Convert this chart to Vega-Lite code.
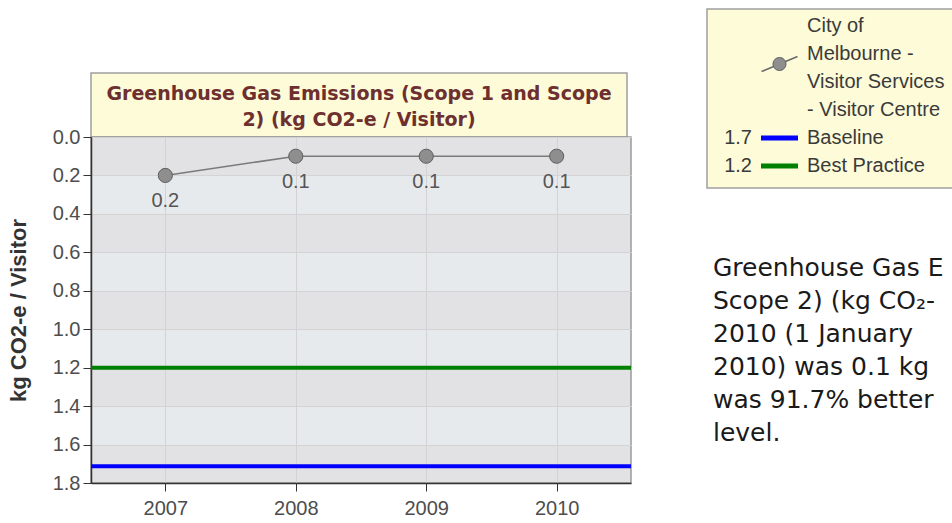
{
  "$schema": "https://vega.github.io/schema/vega-lite/v6.json",
  "padding": {"left": 6, "top": 8, "right": 0, "bottom": 0},
  "background": "white",
  "bounds": "full",
  "spacing": 72,
  "resolve": {"scale": {"x": "independent", "y": "independent", "color": "independent", "stroke": "independent"}},
  "config": {
    "font": "Liberation Sans",
    "view": {"stroke": null},
    "axis": {
      "labelFont": "Liberation Sans",
      "labelFontSize": 20,
      "labelColor": "#4d4d4d",
      "labelOverlap": false,
      "tickColor": "#333333",
      "tickSize": 8,
      "domainColor": "#333333",
      "domainWidth": 1.5,
      "gridColor": "#d3d3d3",
      "gridWidth": 1,
      "labelPadding": 3,
      "titleFont": "Liberation Sans",
      "titleFontSize": 22,
      "titleFontWeight": "bold",
      "titleColor": "#333333"
    },
    "axisY": {"labelOverlap": false}
  },
  "datasets": {
    "emissions": [
      {"year": "2007", "value": 0.2},
      {"year": "2008", "value": 0.1},
      {"year": "2009", "value": 0.1},
      {"year": "2010", "value": 0.1}
    ],
    "targets": [
      {"target": "Baseline", "value": 1.713},
      {"target": "Best Practice", "value": 1.2}
    ],
    "charttitle": [
      {"text": "Greenhouse Gas Emissions (Scope 1 and Scope\n2) (kg CO2-e / Visitor)"}
    ],
    "legend": [
      {"line": 1, "label": "City of"},
      {"line": 2, "label": "Melbourne -", "symbol": "series"},
      {"line": 3, "label": "Visitor Services"},
      {"line": 4, "label": "- Visitor Centre"},
      {"line": 5, "label": "Baseline", "value": 1.7, "symbol": "Baseline"},
      {"line": 6, "label": "Best Practice", "value": 1.2, "symbol": "Best Practice"}
    ],
    "note": [
      {"line": 1, "text": "Greenhouse Gas E"},
      {"line": 2, "text": "Scope 2) (kg CO₂-"},
      {"line": 3, "text": "2010 (1 January"},
      {"line": 4, "text": "2010) was 0.1 kg"},
      {"line": 5, "text": "was 91.7% better"},
      {"line": 6, "text": "level."}
    ]
  },
  "hconcat": [
    {
      "vconcat": [
        {
          "width": 536,
          "height": 64,
          "data": {"values": [{}]},
          "mark": {"type": "point", "opacity": 0},
          "encoding": {}
        },
        {
          "width": 536,
          "height": 64,
          "data": {"name": "charttitle"},
          "view": {"fill": "#fdfbd8", "stroke": "#a0a0a0", "strokeWidth": 1.5},
          "mark": {"type": "text", "font": "DejaVu Sans", "fontWeight": "bold", "fontSize": 19, "color": "#6e2f2f", "lineBreak": "\n", "lineHeight": 26, "baseline": "middle", "dy": -11},
          "encoding": {"text": {"field": "text"}}
        },
        {
          "width": 540,
          "height": 346,
          "view": {
            "stroke": "#9a9a9a",
            "strokeWidth": 1.5,
            "fill": {
              "gradient": "linear", "x1": 0, "y1": 0, "x2": 0, "y2": 1,
              "stops": [
                {"offset": 0, "color": "#e2e2e4"}, {"offset": 0.1111, "color": "#e2e2e4"},
                {"offset": 0.1111, "color": "#e7eaed"}, {"offset": 0.2222, "color": "#e7eaed"},
                {"offset": 0.2222, "color": "#e2e2e4"}, {"offset": 0.3333, "color": "#e2e2e4"},
                {"offset": 0.3333, "color": "#e7eaed"}, {"offset": 0.4444, "color": "#e7eaed"},
                {"offset": 0.4444, "color": "#e2e2e4"}, {"offset": 0.5556, "color": "#e2e2e4"},
                {"offset": 0.5556, "color": "#e7eaed"}, {"offset": 0.6667, "color": "#e7eaed"},
                {"offset": 0.6667, "color": "#e2e2e4"}, {"offset": 0.7778, "color": "#e2e2e4"},
                {"offset": 0.7778, "color": "#e7eaed"}, {"offset": 0.8889, "color": "#e7eaed"},
                {"offset": 0.8889, "color": "#e2e2e4"}, {"offset": 1, "color": "#e2e2e4"}
              ]
            }
          },
          "encoding": {
            "y": {
              "field": "value", "type": "quantitative",
              "scale": {"domain": [0, 1.8], "reverse": true, "nice": false},
              "axis": {"values": [0, 0.2, 0.4, 0.6, 0.8, 1.0, 1.2, 1.4, 1.6, 1.8], "tickCount": 10, "format": ".1f", "title": "kg CO2-e / Visitor", "titlePadding": 22, "grid": true, "labelOverlap": false, "labelFlush": false, "labelBound": false}
            }
          },
          "layer": [
            {
              "data": {"name": "targets"},
              "mark": {"type": "rule", "strokeWidth": 4},
              "encoding": {
                "color": {"field": "target", "type": "nominal", "scale": {"domain": ["Baseline", "Best Practice"], "range": ["#0000ff", "#008000"]}, "legend": null}
              }
            },
            {
              "data": {"name": "emissions"},
              "mark": {"type": "line", "color": "#7a7a7a", "strokeWidth": 1.5},
              "encoding": {
                "x": {"field": "year", "type": "ordinal", "scale": {"type": "point", "padding": 0.57}, "axis": {"labelAngle": 0, "title": null, "grid": true, "labelPadding": 7}}
              }
            },
            {
              "data": {"name": "emissions"},
              "mark": {"type": "point", "filled": true, "size": 200, "fill": "#8e8e8e", "stroke": "#5e5e5e", "strokeWidth": 1, "opacity": 1},
              "encoding": {
                "x": {"field": "year", "type": "ordinal"}
              }
            },
            {
              "data": {"name": "emissions"},
              "mark": {"type": "text", "dy": 26, "fontSize": 20, "color": "#555555"},
              "encoding": {
                "x": {"field": "year", "type": "ordinal"},
                "text": {"field": "value", "type": "quantitative", "format": ".1f"}
              }
            }
          ]
        }
      ],
      "spacing": 0,
      "bounds": "flush",
      "resolve": {"scale": {"x": "independent", "y": "independent", "color": "independent"}}
    },
    {
      "vconcat": [
        {
          "width": 258,
          "height": 179,
          "data": {"name": "legend"},
          "view": {"fill": "#fdfbd8", "stroke": "#a0a0a0", "strokeWidth": 1.5},
          "encoding": {
            "y": {"field": "line", "type": "ordinal", "scale": {"type": "point", "padding": 0, "range": [17, 157]}, "axis": null}
          },
          "layer": [
            {
              "mark": {"type": "text", "align": "left", "fontSize": 20, "color": "#3a3a3a"},
              "encoding": {
                "x": {"datum": "label", "type": "nominal", "scale": {"type": "point", "padding": 0, "domain": ["value", "swatch", "label"], "range": [45, 100]}, "axis": null},
                "text": {"field": "label"}
              }
            },
            {
              "transform": [{"filter": "isValid(datum.value)"}],
              "mark": {"type": "text", "align": "right", "fontSize": 20, "color": "#3a3a3a"},
              "encoding": {
                "x": {"datum": "value", "type": "nominal"},
                "text": {"field": "value", "type": "quantitative", "format": ".1f"}
              }
            },
            {
              "transform": [{"filter": "datum.symbol === 'Baseline' || datum.symbol === 'Best Practice'"}],
              "mark": {"type": "point", "shape": "M-1,0L1,0", "size": 1369, "strokeWidth": 5, "filled": false, "opacity": 1},
              "encoding": {
                "x": {"datum": "swatch", "type": "nominal"},
                "stroke": {"field": "symbol", "type": "nominal", "scale": {"domain": ["Baseline", "Best Practice"], "range": ["#0000ff", "#008000"]}, "legend": null}
              }
            },
            {
              "transform": [{"filter": "datum.symbol === 'series'"}],
              "mark": {"type": "point", "shape": "M-1,0.42L1,-0.42", "size": 1296, "strokeWidth": 1.5, "stroke": "#6a6a6a", "filled": false, "opacity": 1},
              "encoding": {
                "x": {"datum": "swatch", "type": "nominal"},
                "yOffset": {"value": 10}
              }
            },
            {
              "transform": [{"filter": "datum.symbol === 'series'"}],
              "mark": {"type": "point", "shape": "circle", "size": 170, "filled": true, "fill": "#8e8e8e", "stroke": "#5e5e5e", "strokeWidth": 1, "opacity": 1},
              "encoding": {
                "x": {"datum": "swatch", "type": "nominal"},
                "yOffset": {"value": 10}
              }
            }
          ]
        },
        {
          "width": 245,
          "height": 215,
          "data": {"name": "note"},
          "mark": {"type": "text", "align": "left", "baseline": "alphabetic", "font": "DejaVu Sans", "fontSize": 25, "color": "#1a1a1a", "clip": true, "dx": 6},
          "encoding": {
            "y": {"field": "line", "type": "ordinal", "scale": {"type": "point", "padding": 0.758}, "axis": null},
            "x": {"datum": "text", "type": "nominal", "scale": {"type": "band", "paddingInner": 0, "paddingOuter": 0}, "axis": null, "bandPosition": 0},
            "text": {"field": "text"}
          }
        }
      ],
      "spacing": 63,
      "bounds": "flush",
      "resolve": {"scale": {"x": "independent", "y": "independent", "stroke": "independent"}}
    }
  ]
}
